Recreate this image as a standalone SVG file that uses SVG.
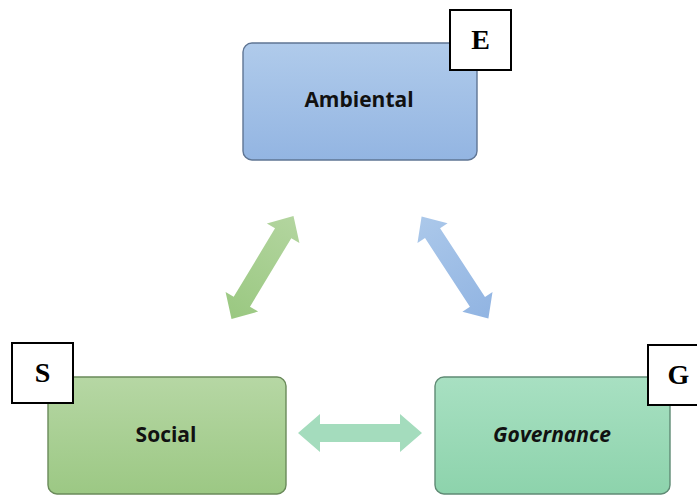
<svg xmlns="http://www.w3.org/2000/svg" width="697" height="496" viewBox="0 0 697 496">
<defs>
<linearGradient id="gBlue" x1="0" y1="0" x2="0" y2="1"><stop offset="0" stop-color="#b0cbeb"/><stop offset="1" stop-color="#93b5e2"/></linearGradient>
<linearGradient id="gGreen" x1="0" y1="0" x2="0" y2="1"><stop offset="0" stop-color="#b6d7a4"/><stop offset="1" stop-color="#9cc884"/></linearGradient>
<linearGradient id="gTeal" x1="0" y1="0" x2="0" y2="1"><stop offset="0" stop-color="#a8e0c2"/><stop offset="1" stop-color="#8dd3ac"/></linearGradient>
<linearGradient id="aGreen" x1="0" y1="0" x2="1" y2="0"><stop offset="0" stop-color="#9ac881"/><stop offset="1" stop-color="#b3d59f"/></linearGradient>
<linearGradient id="aBlue" x1="0" y1="0" x2="1" y2="0"><stop offset="0" stop-color="#abc8ea"/><stop offset="1" stop-color="#91b4e2"/></linearGradient>
</defs>
<style>
.box{stroke-width:1.4}
.lbl{font-family:"Open Sans","Liberation Sans",sans-serif;font-weight:bold;font-size:21px;fill:#111;text-anchor:middle}
.tag{fill:#ffffff;stroke:#000000;stroke-width:2}
.tagt{font-family:"Liberation Serif","Times New Roman",serif;font-weight:bold;font-size:28px;fill:#000;text-anchor:middle}
</style>
<g id="connectors">
<polygon fill="url(#aGreen)" transform="translate(262.5,267.5) rotate(-58.9)" points="-60,0 -40,-19 -40,-9.5 40,-9.5 40,-19 60,0 40,19 40,9.5 -40,9.5 -40,19"/>
<polygon fill="url(#aBlue)" transform="translate(455,267.5) rotate(56.8)" points="-61,0 -41,-18 -41,-9 41,-9 41,-18 61,0 41,18 41,9 -41,9 -41,18"/>
<polygon fill="#a4dcbd" transform="translate(360,433)" points="-62,0 -40,-19 -40,-9 40,-9 40,-19 62,0 40,19 40,9 -40,9 -40,19"/>
</g>
<g id="ambiental">
<rect class="box" x="243" y="43" width="234" height="117" rx="9" fill="url(#gBlue)" stroke="#5f7594"/>
<text class="lbl" x="359" y="107">Ambiental</text>
</g>
<g id="tagE">
<rect class="tag" x="450" y="10" width="61" height="60"/>
<text class="tagt" x="480.5" y="49">E</text>
</g>
<g id="social">
<rect class="box" x="48" y="377" width="238" height="117" rx="9" fill="url(#gGreen)" stroke="#6a8a5a"/>
<text class="lbl" x="166" y="442">Social</text>
</g>
<g id="tagS">
<rect class="tag" x="12" y="343" width="61" height="60"/>
<text class="tagt" x="42.5" y="382">S</text>
</g>
<g id="governance">
<rect class="box" x="435" y="377" width="235" height="117" rx="9" fill="url(#gTeal)" stroke="#5f8a74"/>
<text class="lbl" x="552" y="442" font-style="italic">Governance</text>
</g>
<g id="tagG">
<rect class="tag" x="648" y="345" width="61" height="60"/>
<text class="tagt" x="678.5" y="384">G</text>
</g>
</svg>
